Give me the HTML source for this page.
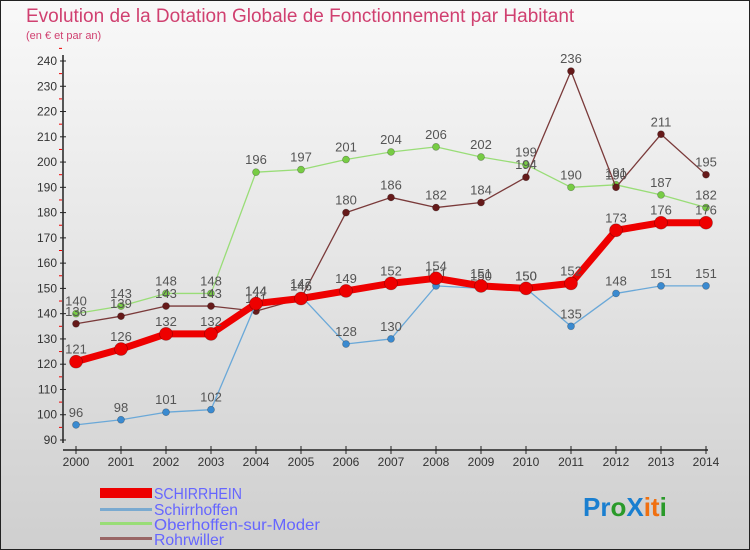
<!DOCTYPE html>
<html><head><meta charset="utf-8"><style>
body{margin:0;}
svg{display:block;font-family:"Liberation Sans",sans-serif;}
</style></head><body>
<svg id="c" width="750" height="550" viewBox="0 0 750 550">
<defs><linearGradient id="bg" x1="0" y1="0" x2="0" y2="1"><stop offset="0" stop-color="#f9f9f9"/><stop offset="1" stop-color="#cfcfcf"/></linearGradient></defs>
<rect x="0.5" y="0.5" width="749" height="549" fill="url(#bg)" stroke="#222"/>
<text x="26" y="22" font-size="19" fill="#d04070">Evolution de la Dotation Globale de Fonctionnement par Habitant</text>
<text x="26" y="39" font-size="11" fill="#d04070">(en € et par an)</text>
<g id="axes"></g><g id="series"></g>
<g font-size="16" fill="#6666ff">
<rect x="100" y="488" width="52" height="10" fill="#ee0000"/>
<text x="154" y="499" textLength="88" lengthAdjust="spacingAndGlyphs">SCHIRRHEIN</text>
<rect x="100" y="508" width="52" height="3" fill="#7aaad0"/>
<text x="154" y="515" textLength="84" lengthAdjust="spacingAndGlyphs">Schirrhoffen</text>
<rect x="100" y="522" width="52" height="3" fill="#99dd77"/>
<text x="154" y="530" textLength="166" lengthAdjust="spacingAndGlyphs">Oberhoffen-sur-Moder</text>
<rect x="100" y="537" width="52" height="3" fill="#996666"/>
<text x="154" y="545" textLength="70" lengthAdjust="spacingAndGlyphs">Rohrwiller</text>
</g>
<text x="583" y="516" font-size="26" font-weight="bold"><tspan fill="#1a7fd0">Pr</tspan><tspan fill="#2a9a2a">o</tspan><tspan fill="#1a7fd0">X</tspan><tspan fill="#f07010">it</tspan><tspan fill="#2a9a2a">i</tspan></text>
</svg>
<script>
const years=[2000,2001,2002,2003,2004,2005,2006,2007,2008,2009,2010,2011,2012,2013,2014];
const schirrhein=[121,126,132,132,144,146,149,152,154,151,150,152,173,176,176];
const schirrhoffen=[96,98,101,102,144,147,128,130,151,150,150,135,148,151,151];
const oberhoffen=[140,143,148,148,196,197,201,204,206,202,199,190,191,187,182];
const rohrwiller=[136,139,143,143,141,146,180,186,182,184,194,236,190,211,195];
const yTicks=[90,100,110,120,130,140,150,160,170,180,190,200,210,220,230,240];
const NS="http://www.w3.org/2000/svg";
const X=i=>76+45*i, Y=v=>440-(v-90)*(379/150);
function mk(t,a,p){const e=document.createElementNS(NS,t);for(const k in a)e.setAttribute(k,a[k]);p.appendChild(e);return e;}
const ax=document.getElementById('axes');
const yl=mk('line',{x1:63,y1:55,x2:63,y2:443,stroke:'#222','stroke-width':1.5},ax);


const xl=mk('line',{x1:63,y1:450,x2:708,y2:450,stroke:'#222','stroke-width':1.5},ax);


yTicks.forEach(v=>{
  mk('line',{x1:60,y1:Y(v),x2:66,y2:Y(v),stroke:'#222'},ax);
  mk('line',{x1:59,y1:Y(v+5),x2:62,y2:Y(v+5),stroke:'#e00'},ax);
  const t=mk('text',{x:57,y:Y(v)+4,'font-size':12,'text-anchor':'end',fill:'#333'},ax);
  t.textContent=v;
  
  
});
years.forEach((y,i)=>{
  mk('line',{x1:X(i),y1:446,x2:X(i),y2:454,stroke:'#222'},ax);
  const t=mk('text',{x:X(i),y:466,'font-size':12,'text-anchor':'middle',fill:'#333'},ax);
  t.textContent=y;
  
  
});
const sg=document.getElementById('series');
function draw(vals,color,lw,r,dot,name){
  const g=mk('g',{},sg);
  
  
  mk('polyline',{points:vals.map((v,i)=>X(i)+','+Y(v)).join(' '),fill:'none',stroke:color,'stroke-width':lw,'stroke-linejoin':'round'},g);
  vals.forEach((v,i)=>{
    const c=mk('circle',{cx:X(i),cy:Y(v),r:r,fill:dot,stroke:'rgba(0,0,0,0.3)','stroke-width':0.7},g);
    
    
    const t=mk('text',{x:X(i),y:Y(v)-8,'font-size':13,'text-anchor':'middle',fill:'#555'},g);
    t.textContent=v;
    
    
  });
}
draw(oberhoffen,'#99dd77',1.3,3.5,'#77cc44','series-oberhoffen');
draw(rohrwiller,'#7a3a3a',1.3,3.5,'#661a1a','series-rohrwiller');
draw(schirrhoffen,'#6aa8d8',1.3,3.5,'#3a8ad0','series-schirrhoffen');
draw(schirrhein,'#ee0000',7,6.5,'#ee0000','series-schirrhein');
</script>
</body></html>
